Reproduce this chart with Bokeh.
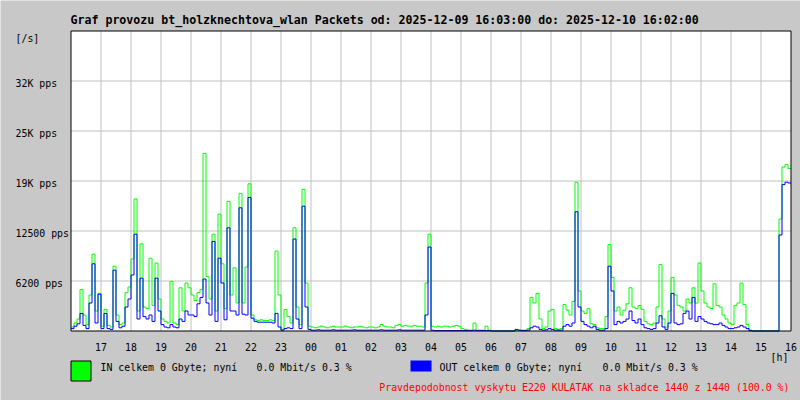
from bokeh.plotting import figure
from bokeh.models import Range1d
from bokeh.core.properties import value
from bokeh.embed import file_html
from bokeh.resources import INLINE

TITLE = "Graf provozu bt_holzknechtova_wlan Packets od: 2025-12-09 16:03:00 do: 2025-12-10 16:02:00"

# hour tick labels (hours after 16:00)
x_tick_pos = list(range(1, 25))
x_tick_labels = ["17", "18", "19", "20", "21", "22", "23", "00", "01", "02", "03", "04",
                 "05", "06", "07", "08", "09", "10", "11", "12", "13", "14", "15", "16"]

y_tick_vals = [6250, 12500, 18750, 25000, 31250]
y_tick_labels = ["6200 pps", "12500 pps", "19K pps", "25K pps", "32K pps"]

# packets per second, 10 samples per hour (6 min), starting 16:00
in_pps = (
    [500, 1000, 1500, 5200, 2000, 800, 4500, 9600, 2500, 4700] +        # 16
    [600, 2700, 700, 500, 8100, 2000, 800, 1000, 4800, 5500] +          # 17
    [9000, 16500, 2500, 10900, 3000, 2800, 9100, 3200, 8500, 4000] +    # 18
    [1500, 1200, 1000, 6200, 1000, 800, 5400, 2500, 6000, 5400] +       # 19
    [4500, 3800, 4800, 5200, 22200, 6800, 4000, 12100, 2500, 14600] +   # 20
    [8400, 2800, 16200, 4500, 7900, 3500, 17200, 3500, 8000, 18400] +   # 21
    [2000, 1400, 1300, 1400, 1300, 1300, 1400, 1300, 10000, 4500] +     # 22
    [200, 2700, 1800, 1000, 12900, 3000, 800, 17700, 6000, 600] +       # 23
    [500, 400, 500, 600, 500, 400, 500, 600, 500, 500] +                # 00
    [500, 600, 500, 400, 500, 500, 600, 500, 400, 500] +                # 01
    [500, 400, 500, 800, 600, 500, 500, 400, 700, 800] +                # 02
    [600, 700, 600, 600, 700, 600, 600, 500, 6000, 12100] +             # 03
    [600, 500, 600, 500, 600, 600, 500, 600, 700, 600] +                # 04
    [300, 200, 100, 100, 1000, 100, 100, 100, 600, 100] +               # 05
    [0, 0, 0, 0, 0, 0, 0, 0, 100, 100] +                                # 06
    [100, 100, 300, 4200, 3500, 4700, 1500, 300, 500, 2500] +           # 07
    [2700, 300, 200, 300, 3300, 2600, 2000, 3700, 18600, 5000] +        # 08
    [2500, 2200, 2800, 900, 800, 400, 300, 300, 1800, 10800] +          # 09
    [6700, 2500, 3000, 2000, 2600, 3400, 5400, 3000, 2800, 3200] +      # 10
    [2700, 1200, 900, 800, 1000, 3000, 8300, 1500, 500, 2500] +         # 11
    [6700, 4500, 3200, 3000, 2500, 4000, 3500, 5400, 3500, 8500] +      # 12
    [5000, 3500, 3000, 2800, 5900, 3200, 3000, 2000, 1500, 1000] +      # 13
    [800, 3200, 3500, 6000, 3300, 800, 100, 0, 0, 0] +                  # 14
    [0, 0, 0, 0, 0, 0, 14000, 20500, 20800, 20300]                      # 15
)
out_pps = (
    [300, 600, 900, 2200, 700, 300, 3500, 8400, 1000, 4600] +           # 16
    [300, 2200, 300, 200, 7600, 1200, 400, 600, 3000, 4000] +           # 17
    [7000, 12100, 1500, 6600, 1800, 1500, 2000, 1200, 6600, 2500] +     # 18
    [800, 500, 400, 800, 500, 400, 1500, 1200, 2500, 2000] +            # 19
    [2000, 1800, 3400, 4200, 6500, 3500, 2000, 11200, 1200, 9100] +     # 20
    [6000, 1400, 12900, 2500, 2500, 2000, 15400, 2100, 2000, 16700] +   # 21
    [1600, 1200, 1100, 1100, 1100, 1100, 1100, 1000, 2200, 500] +       # 22
    [100, 300, 400, 300, 11500, 1500, 300, 15600, 3000, 200] +          # 23
    [100, 100, 150, 100, 100, 100, 100, 150, 100, 100] +                # 00
    [100, 100, 100, 100, 150, 100, 100, 100, 100, 100] +                # 01
    [100, 100, 100, 150, 100, 100, 100, 100, 100, 150] +                # 02
    [100, 100, 100, 100, 100, 100, 100, 100, 2000, 10500] +             # 03
    [100, 50, 50, 50, 50, 50, 50, 50, 50, 50] +                         # 04
    [50, 50, 50, 50, 100, 50, 50, 50, 50, 50] +                         # 05
    [0, 0, 0, 0, 0, 0, 0, 0, 200, 100] +                                # 06
    [50, 50, 100, 400, 600, 500, 200, 100, 150, 300] +                  # 07
    [200, 100, 100, 100, 600, 800, 600, 1000, 14900, 3000] +            # 08
    [1200, 800, 600, 400, 600, 200, 100, 100, 300, 8100] +              # 09
    [5000, 800, 1200, 1000, 1200, 1500, 2500, 1300, 1000, 1500] +       # 10
    [800, 400, 300, 200, 300, 1000, 1900, 500, 200, 1000] +             # 11
    [4700, 1000, 800, 900, 2200, 2500, 1500, 4200, 1200, 1800] +        # 12
    [1500, 1200, 1000, 900, 800, 800, 1000, 700, 500, 300] +            # 13
    [300, 400, 500, 700, 500, 300, 50, 0, 0, 0] +                       # 14
    [0, 0, 0, 0, 0, 0, 12000, 18300, 18600, 18500]                      # 15
)

IN_TEXT_A = "IN celkem 0 Gbyte; nyní"
OUT_TEXT_A = "OUT celkem 0 Gbyte; nyní"
RATE_TEXT = "0.0 Mbit/s 0.3 %"
NOTE_TEXT = "Pravdepodobnost vyskytu E220 KULATAK na skladce 1440 z 1440 (100.0 %)"

BG = "#c8c8c8"
GRID = "#c0c0c0"
FONT = value("DejaVu Sans Mono")
FS = value("9.9px")
n = len(in_pps)
t = [i * 24.0 / n for i in range(n)] + [24.0]
in_y = in_pps + [in_pps[-1]]
out_y = out_pps + [out_pps[-1]]

# outer coordinate system: pixels from the top-left of the figure
p = figure(width=800, height=400, output_backend="svg", toolbar_location=None,
           x_axis_location=None, y_axis_location=None,
           x_range=Range1d(0, 800), y_range=Range1d(400, 0),
           min_border=0, min_border_left=0, min_border_right=0,
           min_border_top=0, min_border_bottom=0)
p.background_fill_color = BG
p.border_fill_color = BG
p.outline_line_color = None
p.xgrid.visible = False
p.ygrid.visible = False

# chart area: hours 0..24 after 16:00, 0..37500 pps
sub = p.subplot(x_source=Range1d(0, 24), y_source=Range1d(0, 37500),
                x_target=Range1d(70.5, 790.5), y_target=Range1d(330.5, 30.5))

sub.quad(left=0, right=24, bottom=0, top=37500, fill_color="white", line_color=None)
sub.segment(x0=x_tick_pos[:-1], y0=0, x1=x_tick_pos[:-1], y1=37500, line_color=GRID,
            line_width=1)
sub.segment(x0=0, y0=y_tick_vals, x1=24, y1=y_tick_vals, line_color=GRID, line_width=1)
sub.step(t, in_y, mode="after", line_color="#00ff00", line_width=1)
sub.step(t, out_y, mode="after", line_color="#0000ff", line_width=1)
sub.quad(left=0, right=24, bottom=0, top=37500, fill_color=None, line_color="black",
         line_width=1)

# axis texts
sub.text(x=-1.85, y=y_tick_vals, text=y_tick_labels, y_offset=2, text_font=FONT,
         text_font_size=FS, text_align="left", text_baseline="middle", text_color="black")
sub.text(x=x_tick_pos, y=-2062, text=x_tick_labels, text_font=FONT, text_font_size=FS,
         text_align="center", text_baseline="middle", text_color="black")

# free texts (outer pixel coordinates)
p.text(x=[70], y=[19], text=[TITLE], text_font=FONT, text_font_size=value("11.6px"),
       text_font_style="bold", text_align="left", text_baseline="middle",
       text_color="black")
p.text(x=[15], y=[37.5], text=["[/s]"], text_font=FONT, text_font_size=FS,
       text_align="left", text_baseline="middle", text_color="black")
p.text(x=[770], y=[357], text=["[h]"], text_font=FONT, text_font_size=FS,
       text_align="left", text_baseline="middle", text_color="black")

# legend
p.quad(left=[70.5], right=[90.5], top=[360.5], bottom=[380.5], fill_color="#00ff00",
       line_color="black", line_width=1)
p.quad(left=[410], right=[431], top=[360], bottom=[371], fill_color="#0000ff",
       line_color=None)
p.text(x=[100, 256, 439, 602], y=[367, 367, 367, 367],
       text=[IN_TEXT_A, RATE_TEXT, OUT_TEXT_A, RATE_TEXT], text_font=FONT,
       text_font_size=FS, text_align="left", text_baseline="middle", text_color="black")
p.text(x=[789], y=[387], text=[NOTE_TEXT], text_font=FONT, text_font_size=FS,
       text_align="right", text_baseline="middle", text_color="#ff0000")

open("out.html", "w").write(file_html(p, INLINE))
